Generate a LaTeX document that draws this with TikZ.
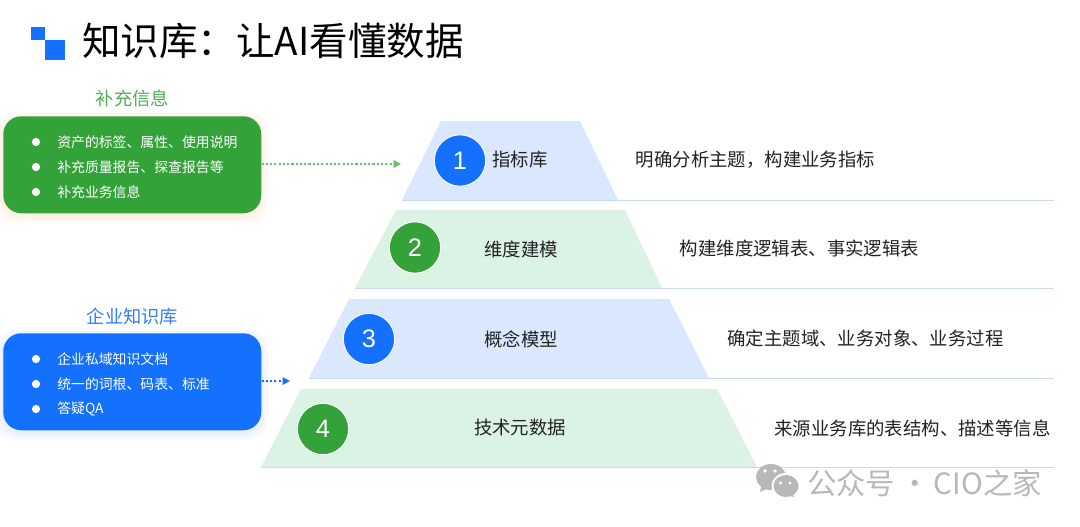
\documentclass[tikz,border=0pt]{standalone}
\usepackage{fontspec}
\setmainfont{Noto Sans CJK SC}
\newfontfamily\digitfont{Liberation Sans}
\usetikzlibrary{arrows.meta}
\definecolor{brandblue}{HTML}{1470FF}
\definecolor{brandgreen}{HTML}{33A339}
\definecolor{headblue}{HTML}{2F80FF}
\definecolor{headgreen}{HTML}{4FAE57}
\definecolor{arrowgreen}{HTML}{6CBF6A}
\definecolor{lightblue}{HTML}{D9E8FF}
\definecolor{lightgreen}{HTML}{DAF3E4}
\definecolor{baseline}{HTML}{CBDAF0}
\definecolor{inktext}{HTML}{222222}
\definecolor{markgray}{HTML}{B8B8B8}
\newcommand{\softshadow}[5]{%
  \foreach \g in {7,5,3,1}{%
    \fill[#5,opacity=0.04,rounded corners=14pt] (#1-\g,#2-\g+3) rectangle (#3+\g,#4+\g+3);}%
}
\tikzset{
  x=0.75pt,y=-0.75pt,
  title/.style={anchor=west,inner sep=0,text=black,font=\fontsize{28.9pt}{34pt}\selectfont},
  headtext/.style={anchor=center,inner sep=0,font=\fontsize{13.7pt}{16pt}\selectfont},
  infobox/.style={anchor=north west,inner sep=0,rounded corners=13.5pt,minimum width=193.5pt,minimum height=72.75pt},
  itemtext/.style={anchor=west,inner sep=0,text=white,font=\fontsize{10.4pt}{12pt}\selectfont},
  bulletdot/.style={circle,fill=white,inner sep=0,minimum size=6.2pt},
  stagetext/.style={anchor=center,inner sep=0,text=inktext,font=\fontsize{13.8pt}{16pt}\selectfont},
  desctext/.style={anchor=center,inner sep=0,text=inktext,font=\fontsize{13.8pt}{16pt}\selectfont},
  numcircle/.style={circle,draw=white,line width=0.7pt,inner sep=0,minimum size=38.5pt,text=white,font=\digitfont\fontsize{19pt}{22pt}\selectfont},
  baserule/.style={draw=baseline,line width=0.7pt},
  dotarrow/.style={line width=1.7pt,dash pattern=on 1.6pt off 1.6pt,-{Triangle[length=5.5pt,width=5.5pt]}},
  markword/.style={anchor=west,inner sep=0,text=markgray,font=\fontsize{22pt}{26pt}\selectfont}
}
\begin{document}
\begin{tikzpicture}
\useasboundingbox (0,0) rectangle (1080,526);
\fill[white] (0,0) rectangle (1080,526);
% logo
\fill[brandblue] (31,27) rectangle (45,40);
\fill[brandblue] (45,40) rectangle (65,60);
\node[title] (ttl) at (82,41) {知识库：让AI看懂数据};
% trapezoids
\fill[lightblue] (402,200)--(441,121)--(580,121)--(618,200)--cycle;
\fill[lightgreen] (355,288)--(396,210)--(625,210)--(662,288)--cycle;
\fill[lightblue] (309,378)--(349,299)--(669,299)--(709,378)--cycle;
\fill[lightgreen] (261,467)--(301,389)--(717,389)--(757,467)--cycle;
\coordinate (l1a) at (402,200); \coordinate (l1b) at (1054,200);
\coordinate (l2a) at (355,288); \coordinate (l2b) at (1054,288);
\coordinate (l3a) at (309,378); \coordinate (l3b) at (1054,378);
\coordinate (l4a) at (261,467); \coordinate (l4b) at (1054,467);
\draw[baserule] (l1a)--(l1b);
\draw[baserule] (l2a)--(l2b);
\draw[baserule] (l3a)--(l3b);
\draw[baserule] (l4a)--(l4b);
% stage labels
\node[numcircle,fill=brandblue] (n1) at (460,160.5) {1};
\node[numcircle,fill=brandgreen] (n2) at (415,247.5) {2};
\node[numcircle,fill=brandblue] (n3) at (369,339) {3};
\node[numcircle,fill=brandgreen] (n4) at (323,429) {4};
\node[stagetext] (s1) at (520,160) {指标库};
\node[stagetext] (s2) at (521,249) {维度建模};
\node[stagetext] (s3) at (521,339) {概念模型};
\node[stagetext] (s4) at (520,428) {技术元数据};
\node[desctext] (d1) at (755.5,160) {明确分析主题，构建业务指标};
\node[desctext] (d2) at (799.5,248) {构建维度逻辑表、事实逻辑表};
\node[desctext] (d3) at (865.5,338) {确定主题域、业务对象、业务过程};
\node[desctext] (d4) at (912.5,428) {来源业务库的表结构、描述等信息};
% left boxes
\node[headtext,text=headgreen] (h1) at (132.5,98.2) {补充信息};
\node[headtext,text=headblue] (h2) at (132.5,316.5) {企业知识库};
\softshadow{3}{116}{261}{213}{orange!60}
\softshadow{3}{333}{261}{430}{brandblue!60}
\node[infobox,fill=brandgreen] (b1) at (3,116) {};
\node[infobox,fill=brandblue] (b2) at (3,333) {};
\foreach \yy/\txt in {142/资产的标签、属性、使用说明,167/补充质量报告、探查报告等,192/补充业务信息}{
  \node[bulletdot] at (36,\yy) {};
  \node[itemtext] at (57,\yy) {\txt};
}
\foreach \yy/\txt in {359/企业私域知识文档,384/统一的词根、码表、标准,409/答疑QA}{
  \node[bulletdot] at (36,\yy) {};
  \node[itemtext] at (57,\yy) {\txt};
}
\coordinate (a1) at (401,164);
\coordinate (a2) at (290,381);
\draw[dotarrow,draw=arrowgreen,fill=arrowgreen] (b1.east |- a1) -- (a1);
\draw[dotarrow,draw=brandblue,fill=brandblue] (b2.east |- a2) -- (a2);
% watermark
\fill[markgray] (771,477) ellipse (15 and 13);
\fill[markgray] (760,492)--(762,483)--(769,488)--cycle;
\fill[white] (786,486) ellipse (14.5 and 13);
\fill[markgray] (786,486) ellipse (12.5 and 11);
\fill[markgray] (794,497)--(791,491)--(786,495)--cycle;
\fill[white] (765,471) circle (1.8); \fill[white] (775,471) circle (1.8);
\fill[white] (780.5,483) circle (1.6); \fill[white] (790,483) circle (1.6);
\node[markword] (wm) at (807,483) {公众号\hspace{-1pt} · \hspace{-2pt}CIO\hspace{0.6pt}之家};
\end{tikzpicture}
\end{document}
